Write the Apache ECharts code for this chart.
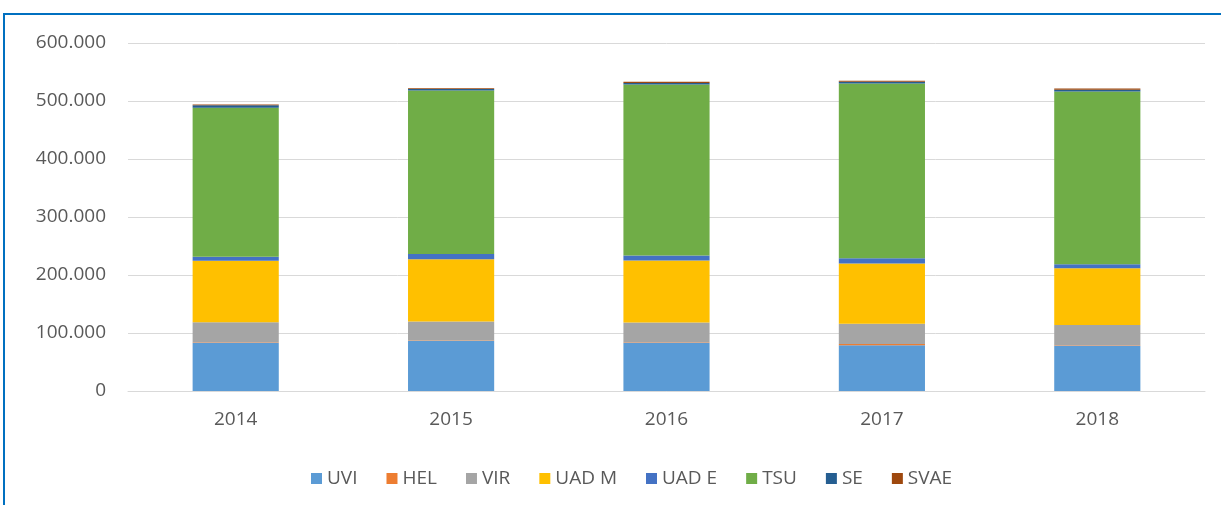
<!DOCTYPE html>
<html>
<head>
<meta charset="utf-8">
<script src="https://cdn.jsdelivr.net/npm/echarts@6/dist/echarts.min.js"></script>
<style>html,body{margin:0;padding:0;background:#fff}#c{width:1221px;height:505px}</style>
</head>
<body>
<div id="c"></div>
<script>
const categories = ['2014', '2015', '2016', '2017', '2018'];
const seriesNames = ['UVI', 'HEL', 'VIR', 'UAD M', 'UAD E', 'TSU', 'SE', 'SVAE'];
const UVI  = [83000, 86000, 83000, 79000, 78000];
const HEL  = [1000, 1000, 1000, 2000, 1000];
const VIR  = [34500, 33000, 34000, 35000, 35000];
const UADM = [106000, 107000, 107000, 104000, 97500];
const UADE = [7000, 9000, 8500, 9000, 7000];
const TSU  = [257000, 282000, 295000, 301000, 298000];
const SE   = [4000, 2500, 2500, 3000, 3000];
const SVAE = [1500, 1500, 2000, 2000, 2000];
const values = [UVI, HEL, VIR, UADM, UADE, TSU, SE, SVAE];
const colors = ['#5B9BD5', '#ED7D31', '#A5A5A5', '#FFC000', '#4472C4', '#70AD47', '#255E91', '#9E480E'];

const chart = echarts.init(document.getElementById('c'), null, {renderer: 'canvas'});
const font = '"Open Sans", "Liberation Sans", sans-serif';
chart.setOption({
  animation: false,
  color: colors,
  graphic: [{
    type: 'rect', silent: true, z: 100,
    shape: {x: 4, y: 14, width: 1400, height: 700},
    style: {fill: 'none', stroke: '#0070C0', lineWidth: 2}
  }],
  grid: {left: 128, right: 16, top: 43, bottom: 114},
  legend: {
    data: seriesNames,
    left: 306, top: 464,
    itemWidth: 11, itemHeight: 11, itemGap: 29,
    icon: 'rect',
    textStyle: {color: '#595959', fontSize: 19, fontFamily: font, padding: [0, 0, 0, 0]}
  },
  xAxis: {
    type: 'category', data: categories,
    axisTick: {show: false},
    axisLine: {lineStyle: {color: '#D9D9D9'}},
    axisLabel: {color: '#595959', fontSize: 19, fontFamily: font, margin: 19}
  },
  yAxis: {
    type: 'value', min: 0, max: 600000, interval: 100000,
    axisLine: {show: false}, axisTick: {show: false},
    splitLine: {lineStyle: {color: '#D9D9D9', width: 1}},
    axisLabel: {
      color: '#595959', fontSize: 19, fontFamily: font, margin: 22,
      formatter: v => v === 0 ? '0' : String(v).replace(/\B(?=(\d{3})+(?!\d))/g, '.')
    }
  },
  series: seriesNames.map((n, i) => ({
    name: n, type: 'bar', stack: 'total', barWidth: '40%',
    data: values[i]
  }))
});
</script>
</body>
</html>
